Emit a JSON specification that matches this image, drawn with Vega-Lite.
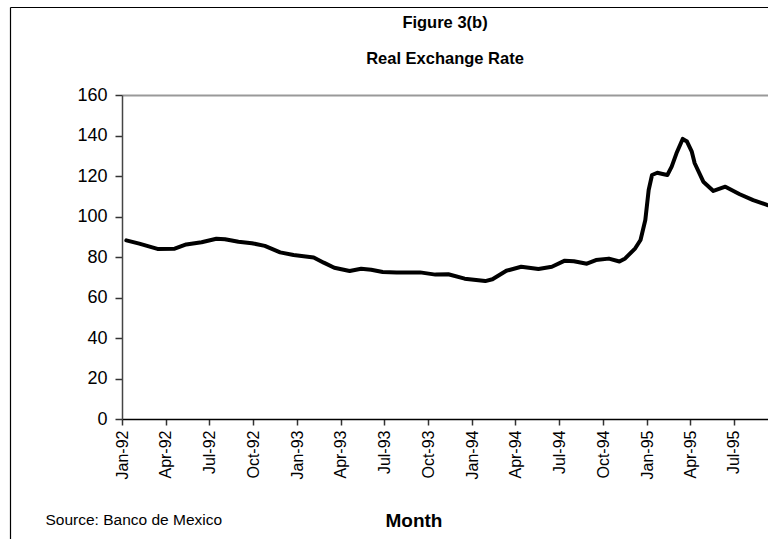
{
  "$schema": "https://vega.github.io/schema/vega-lite/v6.json",
  "autosize": {"type": "none"},
  "width": 646,
  "height": 324,
  "padding": {"left": 122, "top": 95, "right": 0, "bottom": 120},
  "background": "white",
  "config": {
    "view": {"stroke": null},
    "font": "Liberation Sans",
    "axis": {"labelFont": "Liberation Sans", "titleFont": "Liberation Sans", "labelColor": "black", "titleColor": "black"}
  },
  "title": {
    "text": ["Figure 3(b)", "Real Exchange Rate"],
    "font": "Liberation Sans",
    "fontSize": 16.5,
    "fontWeight": "bold",
    "color": "black",
    "anchor": "middle",
    "lineHeight": 36,
    "offset": -63
  },
  "layer": [
    {
      "data": {"values": [
        {"date": "1992/01/10", "rate": 88.2},
        {"date": "1992/02/06", "rate": 86.6},
        {"date": "1992/03/15", "rate": 84.0},
        {"date": "1992/04/20", "rate": 84.1},
        {"date": "1992/05/14", "rate": 86.2},
        {"date": "1992/06/15", "rate": 87.3},
        {"date": "1992/07/16", "rate": 89.0},
        {"date": "1992/08/03", "rate": 88.8},
        {"date": "1992/08/31", "rate": 87.5},
        {"date": "1992/09/28", "rate": 86.8},
        {"date": "1992/10/25", "rate": 85.5},
        {"date": "1992/11/26", "rate": 82.3},
        {"date": "1992/12/24", "rate": 81.0},
        {"date": "1993/02/04", "rate": 79.8},
        {"date": "1993/02/25", "rate": 77.2},
        {"date": "1993/03/19", "rate": 74.7},
        {"date": "1993/04/20", "rate": 73.1},
        {"date": "1993/05/14", "rate": 74.2},
        {"date": "1993/06/04", "rate": 73.7},
        {"date": "1993/06/28", "rate": 72.6},
        {"date": "1993/07/27", "rate": 72.3},
        {"date": "1993/09/14", "rate": 72.4},
        {"date": "1993/10/16", "rate": 71.3},
        {"date": "1993/11/12", "rate": 71.5},
        {"date": "1993/12/16", "rate": 69.3},
        {"date": "1994/01/28", "rate": 68.1},
        {"date": "1994/02/12", "rate": 69.0},
        {"date": "1994/03/13", "rate": 73.2},
        {"date": "1994/04/13", "rate": 75.2},
        {"date": "1994/05/19", "rate": 74.1},
        {"date": "1994/06/16", "rate": 75.2},
        {"date": "1994/07/13", "rate": 78.2},
        {"date": "1994/08/01", "rate": 77.9},
        {"date": "1994/08/28", "rate": 76.7},
        {"date": "1994/09/16", "rate": 78.5},
        {"date": "1994/10/13", "rate": 79.2},
        {"date": "1994/11/04", "rate": 77.8},
        {"date": "1994/11/16", "rate": 79.3},
        {"date": "1994/12/07", "rate": 84.3},
        {"date": "1994/12/18", "rate": 88.4},
        {"date": "1994/12/28", "rate": 98.3},
        {"date": "1995/01/04", "rate": 113.1},
        {"date": "1995/01/11", "rate": 120.5},
        {"date": "1995/01/22", "rate": 121.6},
        {"date": "1995/02/02", "rate": 121.0},
        {"date": "1995/02/12", "rate": 120.5},
        {"date": "1995/02/21", "rate": 124.6},
        {"date": "1995/03/03", "rate": 131.2},
        {"date": "1995/03/16", "rate": 138.3},
        {"date": "1995/03/25", "rate": 137.0},
        {"date": "1995/04/04", "rate": 132.0},
        {"date": "1995/04/10", "rate": 126.3},
        {"date": "1995/04/28", "rate": 117.2},
        {"date": "1995/05/19", "rate": 112.6},
        {"date": "1995/06/13", "rate": 114.7},
        {"date": "1995/07/13", "rate": 111.0},
        {"date": "1995/08/10", "rate": 108.1},
        {"date": "1995/09/08", "rate": 105.7},
        {"date": "1995/09/20", "rate": 105.0}
      ]},
      "mark": {"type": "line", "color": "black", "strokeWidth": 4, "clip": true, "strokeJoin": "round", "strokeCap": "round"},
      "encoding": {
        "x": {
          "field": "date",
          "type": "temporal",
          "scale": {"domain": [{"year": 1992, "month": 1, "date": 1}, {"year": 1995, "month": 9, "date": 10}]},
          "axis": {
            "values": [
              {"year": 1992, "month": 1, "date": 1}, {"year": 1992, "month": 4, "date": 1}, {"year": 1992, "month": 7, "date": 1}, {"year": 1992, "month": 10, "date": 1},
              {"year": 1993, "month": 1, "date": 1}, {"year": 1993, "month": 4, "date": 1}, {"year": 1993, "month": 7, "date": 1}, {"year": 1993, "month": 10, "date": 1},
              {"year": 1994, "month": 1, "date": 1}, {"year": 1994, "month": 4, "date": 1}, {"year": 1994, "month": 7, "date": 1}, {"year": 1994, "month": 10, "date": 1},
              {"year": 1995, "month": 1, "date": 1}, {"year": 1995, "month": 4, "date": 1}, {"year": 1995, "month": 7, "date": 1}
            ],
            "format": "%b-%y",
            "labelAngle": 270,
            "labelAlign": "right",
            "labelBaseline": "middle",
            "labelFontSize": 16,
            "labelPadding": 5,
            "labelOverlap": false,
            "labelFlush": false,
            "tickSize": 6,
            "tickColor": "#333333",
            "tickWidth": 1.5,
            "domainColor": "black",
            "domainWidth": 1.5,
            "grid": false,
            "title": "Month",
            "titleFontSize": 19,
            "titleFontWeight": "bold",
            "titleAlign": "left",
            "titleBaseline": "alphabetic",
            "titleAnchor": "start",
            "titleX": 263,
            "titleY": 107
          }
        },
        "y": {
          "field": "rate",
          "type": "quantitative",
          "scale": {"domain": [0, 160], "nice": false},
          "axis": {
            "values": [0, 20, 40, 60, 80, 100, 120, 140, 160],
            "labelFontSize": 18,
            "labelPadding": 8,
            "tickSize": 7,
            "tickColor": "#333333",
            "tickWidth": 1.5,
            "domainColor": "#444444",
            "domainWidth": 1.5,
            "grid": true,
            "gridColor": "#999999",
            "gridWidth": 2,
            "gridOpacity": {"condition": {"test": "datum.value === 160", "value": 1}, "value": 0},
            "title": "Source: Banco de Mexico",
            "titleAngle": 0,
            "titleFontSize": 15.5,
            "titleFontWeight": "normal",
            "titleAlign": "left",
            "titleBaseline": "alphabetic",
            "titleX": -77,
            "titleY": 429
          }
        }
      }
    },
    {
      "data": {"values": [{"b": 0}, {"b": 1}]},
      "mark": {"type": "point", "opacity": 0},
      "encoding": {
        "x": {
          "field": "b",
          "type": "quantitative",
          "scale": {"domain": [0, 1], "range": [-112, 646], "nice": false, "zero": false},
          "axis": {"orient": "top", "offset": 88, "labels": false, "ticks": false, "grid": false, "title": null, "domainColor": "black", "domainWidth": 1.2}
        },
        "y": {
          "field": "b",
          "type": "quantitative",
          "scale": {"domain": [0, 1], "range": [444, -88], "nice": false, "zero": false},
          "axis": {"orient": "left", "offset": 112, "labels": false, "ticks": false, "grid": false, "title": null, "domainColor": "black", "domainWidth": 1.2}
        }
      }
    }
  ],
  "resolve": {"scale": {"x": "independent", "y": "independent"}, "axis": {"x": "independent", "y": "independent"}}
}
